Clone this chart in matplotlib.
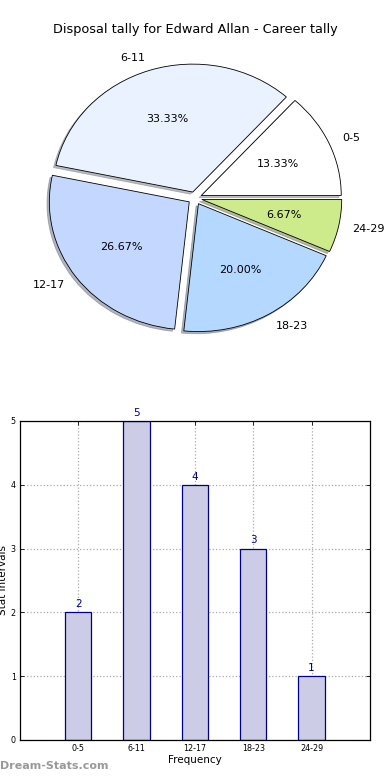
import matplotlib
matplotlib.use("Agg")
import matplotlib.pyplot as plt

categories = ["0-5", "6-11", "12-17", "18-23", "24-29"]
counts = [2, 5, 4, 3, 1]
pie_colors = ["#ffffff", "#eaf2ff", "#c4d8ff", "#b4d8ff", "#cdeb8b"]
title = "Disposal tally for Edward Allan - Career tally"

fig = plt.figure(figsize=(3.9, 7.8), dpi=100)

# Pie chart
ax1 = fig.add_axes([0.0513, 0.541, 0.897, 0.410])
ax1.pie(counts, labels=categories, colors=pie_colors, autopct="%1.2f%%",
        explode=[0.05] * len(counts),
        shadow=dict(ox=-0.012, oy=-0.012, shade=0.5),
        startangle=0,
        wedgeprops=dict(edgecolor="black", linewidth=0.6),
        textprops=dict(fontsize=8))
ax1.set_aspect("auto")
ax1.set_xlim(-1.25, 1.25)
ax1.set_ylim(-1.25, 1.25)
fig.text(0.5, 0.962, title, ha="center", va="center", fontsize=9.3)

# Bar chart
ax2 = fig.add_axes([0.0513, 0.0513, 0.897, 0.409])
x = list(range(len(categories)))
bars = ax2.bar(x, counts, width=0.45, color="#ccccE6", edgecolor="#000088",
               linewidth=0.9, zorder=2)
for xi, c in zip(x, counts):
    ax2.text(xi, c + 0.05, str(c), ha="center", va="bottom", fontsize=7.5,
             color="#000088")
ax2.set_xlim(-1, 5)
ax2.set_ylim(0, 5)
ax2.set_xticks(x)
ax2.set_xticklabels(categories, fontsize=5.8)
ax2.set_yticks(range(6))
ax2.tick_params(axis="y", labelsize=5.8)
ax2.tick_params(direction="in", top=True, right=True, length=3, width=0.6, pad=3)
ax2.grid(True, linestyle=":", color="#aaaaaa", linewidth=0.9, zorder=0)
ax2.set_axisbelow(True)
ax2.set_xlabel("Frequency", fontsize=7.5, labelpad=1)
ax2.set_ylabel("Stat Intervals", fontsize=7.5, labelpad=2)
for s in ax2.spines.values():
    s.set_linewidth(0.9)

fig.text(0.0, 0.012, "Dream-Stats.com", fontsize=8, color="#999999",
         fontweight="bold", ha="left", va="bottom")

fig.savefig("out.png", dpi=100)
